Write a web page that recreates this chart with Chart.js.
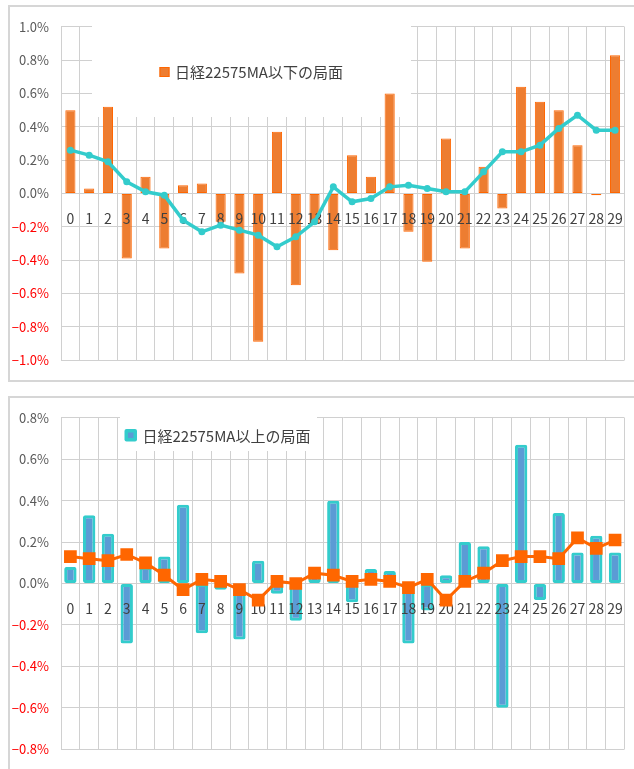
<!DOCTYPE html>
<html lang="ja">
<head>
<meta charset="UTF-8">
<title>日経225 75MA 局面別</title>
<script src="https://cdn.jsdelivr.net/npm/chart.js"></script>
<style>
  body {
    margin: 0;
    background: #fff;
    width: 634px;
    height: 769px;
    overflow: hidden;
    position: relative;
  }
  .box {
    position: absolute;
    left: 8px;
    width: 640px;
    border: 2px solid #d6d6d6;
  }
  #box1 { top: 5px; height: 373px; }
  #box2 { top: 396px; height: 400px; }
  canvas { display: block; }
</style>
</head>
<body>
<div class="box" id="box1"><canvas id="chartBelow" width="630" height="373"></canvas></div>
<div class="box" id="box2"><canvas id="chartAbove" width="630" height="371"></canvas></div>
<script>
const categories = ['0','1','2','3','4','5','6','7','8','9','10','11','12','13','14',
  '15','16','17','18','19','20','21','22','23','24','25','26','27','28','29'];

// 75MA以下の局面 (%)
const belowLabel = '日経22575MA以下の局面';
const belowBars = [0.50, 0.03, 0.52, -0.39, 0.10, -0.33, 0.05, 0.06, -0.17, -0.48,
  -0.89, 0.37, -0.55, -0.18, -0.34, 0.23, 0.10, 0.60, -0.23, -0.41,
  0.33, -0.33, 0.16, -0.09, 0.64, 0.55, 0.50, 0.29, -0.01, 0.83];
const belowLine = [0.26, 0.23, 0.19, 0.07, 0.01, -0.01, -0.16, -0.23, -0.19, -0.22,
  -0.25, -0.32, -0.26, -0.17, 0.04, -0.05, -0.03, 0.04, 0.05, 0.03,
  0.01, 0.01, 0.13, 0.25, 0.25, 0.29, 0.39, 0.47, 0.38, 0.38];
const belowTicks = { min: -1.0, max: 1.0, step: 0.2 };

// 75MA以上の局面 (%)
const aboveLabel = '日経22575MA以上の局面';
const aboveBars = [0.08, 0.33, 0.24, -0.29, 0.08, 0.13, 0.38, -0.24, -0.03, -0.27,
  0.11, -0.05, -0.18, 0.04, 0.40, -0.09, 0.07, 0.06, -0.29, -0.13,
  0.04, 0.20, 0.18, -0.60, 0.67, -0.08, 0.34, 0.15, 0.23, 0.15];
const aboveLine = [0.13, 0.12, 0.11, 0.14, 0.10, 0.04, -0.03, 0.02, 0.01, -0.03,
  -0.08, 0.01, 0.00, 0.05, 0.04, 0.01, 0.02, 0.01, -0.02, 0.02,
  -0.08, 0.01, 0.05, 0.11, 0.13, 0.13, 0.12, 0.22, 0.17, 0.21];
const aboveTicks = { min: -0.8, max: 0.8, step: 0.2 };

const gridColor = '#d0d0d0';
const jpFont = '"Noto Sans CJK JP", "Noto Sans", sans-serif';

function pctLabel(v) {
  if (Math.abs(v) < 1e-9) return '0.0%';
  const s = Math.abs(v).toFixed(1) + '%';
  return v < 0 ? '\u2212' + s : s;
}

// white box behind the legend + the legend itself
const legendBox = {
  id: 'legendBox',
  beforeDatasetsDraw(chart, args, o) {
    const ctx = chart.ctx;
    ctx.save();
    ctx.fillStyle = '#fff';
    ctx.fillRect(o.box[0], o.box[1], o.box[2], o.box[3]);
    ctx.restore();
  },
  afterDraw(chart, args, o) {
    const ctx = chart.ctx;
    const [sx, sy, ss] = o.swatch;
    ctx.save();
    if (o.kind === 'bar') {
      ctx.fillStyle = '#ED7D31';
      ctx.fillRect(sx, sy, ss, ss);
      ctx.strokeStyle = '#FF6600';
      ctx.lineWidth = 1;
      ctx.strokeRect(sx + 0.5, sy + 0.5, ss - 1, ss - 1);
    } else {
      ctx.fillStyle = '#33CCCC';
      ctx.beginPath();
      ctx.roundRect(sx, sy, ss, ss, 2);
      ctx.fill();
      ctx.fillStyle = '#5B9BD5';
      ctx.fillRect(sx + 3.5, sy + 3.5, ss - 7, ss - 7);
    }
    ctx.fillStyle = '#404040';
    ctx.font = '15px ' + jpFont;
    ctx.textBaseline = 'middle';
    ctx.textAlign = 'left';
    ctx.fillText(o.text, o.textAt[0], o.textAt[1]);
    ctx.restore();
  }
};

// category labels sit on the zero line: draw them after the bars, before the line
const labelsOverBars = {
  id: 'labelsOverBars',
  beforeDraw(chart) {
    const xs = chart.scales.x;
    if (!xs.$origLabels) {
      xs.$origLabels = xs.drawLabels;
      xs.drawLabels = function (area) {
        if (chart.$labelPass) xs.$origLabels.call(xs, area);
      };
    }
  },
  afterDatasetDraw(chart, args) {
    if (args.meta.type === 'bar') {
      chart.$labelPass = true;
      chart.scales.x.drawLabels(chart.chartArea);
      chart.$labelPass = false;
    }
  }
};

function makeChart(id, datasets, range, pad, legendOpts) {
  return new Chart(document.getElementById(id), {
    type: 'bar',
    data: { labels: categories, datasets: datasets },
    options: {
      responsive: false,
      animation: false,
      layout: { padding: pad },
      plugins: {
        legend: { display: false },
        tooltip: { enabled: false },
        legendBox: legendOpts
      },
      scales: {
        x: {
          position: { y: 0 },
          grid: { color: gridColor, drawTicks: false, offset: true },
          border: { display: false },
          ticks: {
            color: '#404040',
            font: { family: jpFont, size: 14 },
            padding: 17,
            autoSkip: false,
            maxRotation: 0
          }
        },
        y: {
          min: range.min,
          max: range.max,
          afterFit: s => { s.width = 51; },
          grid: { color: gridColor, drawTicks: false },
          border: { color: gridColor },
          ticks: {
            stepSize: range.step,
            padding: 12,
            font: { family: jpFont, size: 13 },
            color: c => c.tick.value < -1e-9 ? '#FF0000' : '#595959',
            callback: v => pctLabel(v)
          }
        }
      }
    },
    plugins: [legendBox, labelsOverBars]
  });
}

makeChart('chartBelow', [
  {
    type: 'line',
    label: '平均',
    data: belowLine,
    borderColor: '#33CCCC',
    backgroundColor: '#33CCCC',
    borderWidth: 3.5,
    pointRadius: 3.5,
    pointBackgroundColor: '#33CCCC',
    pointBorderWidth: 0,
    order: 0
  },
  {
    label: belowLabel,
    data: belowBars,
    backgroundColor: '#ED7D31',
    borderColor: '#FF6600',
    borderWidth: 1,
    borderSkipped: false,
    categoryPercentage: 1,
    barPercentage: 0.54,
    order: 1
  }
], belowTicks, { left: 0, top: 11, right: 11, bottom: 11 }, {
  kind: 'bar',
  box: [82, 16, 319, 94],
  swatch: [149.5, 60, 10],
  text: belowLabel,
  textAt: [165, 65]
});

makeChart('chartAbove', [
  {
    type: 'line',
    label: '平均',
    data: aboveLine,
    borderColor: '#FF6600',
    backgroundColor: '#FF6600',
    borderWidth: 3,
    pointStyle: 'rect',
    pointRadius: 9,
    pointBackgroundColor: '#FF6600',
    pointBorderWidth: 0,
    order: 0
  },
  {
    label: aboveLabel,
    data: aboveBars,
    backgroundColor: '#5B9BD5',
    borderColor: '#33CCCC',
    borderWidth: 3,
    borderRadius: 2,
    borderSkipped: false,
    categoryPercentage: 1,
    barPercentage: 0.66,
    order: 1
  }
], aboveTicks, { left: 0, top: 10, right: 11, bottom: 9 }, {
  kind: 'combo',
  box: [110, 12, 197, 41],
  swatch: [114.5, 31, 12.5],
  text: aboveLabel,
  textAt: [132.5, 38]
});
</script>
</body>
</html>
